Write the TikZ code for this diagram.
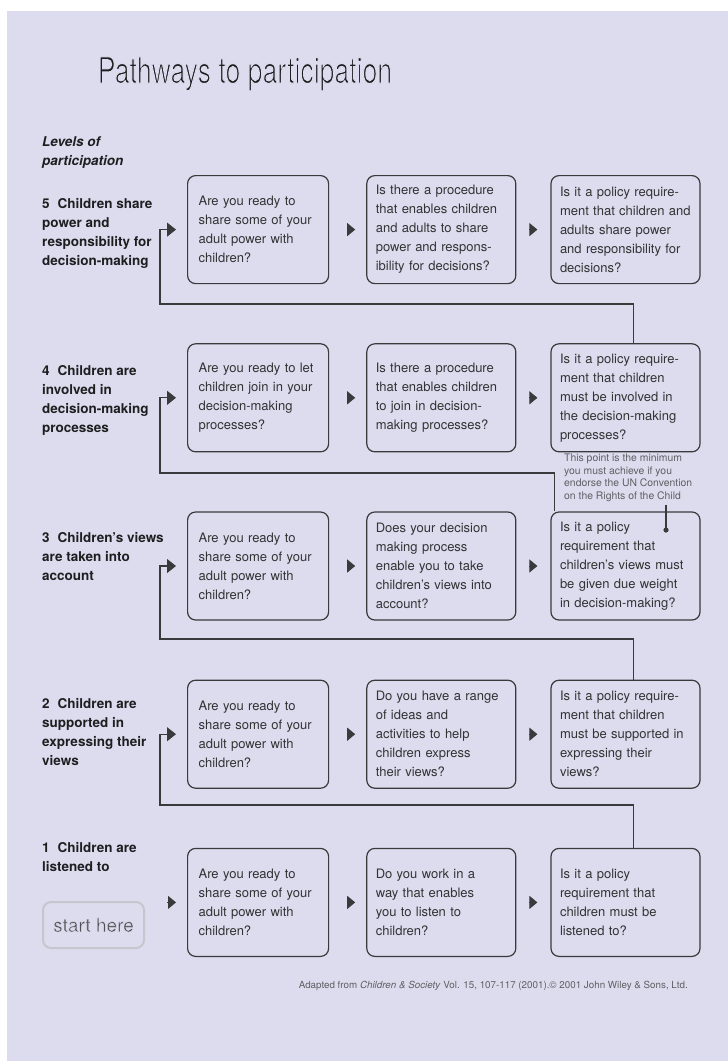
\documentclass[tikz,border=0pt]{standalone}
\usepackage{fontspec}
\setmainfont{TeX Gyre Heros}
\newfontfamily\titlefont{TeX Gyre Heros}[FakeStretch=0.74]
\usetikzlibrary{arrows.meta, positioning}
\definecolor{lav}{RGB}{220,220,238}
\definecolor{boxline}{RGB}{58,58,60}
\definecolor{boxtext}{RGB}{50,50,52}
\definecolor{labeltext}{RGB}{30,30,32}
\definecolor{notetext}{RGB}{95,95,100}
\definecolor{startline}{RGB}{198,198,206}
\definecolor{starttext}{RGB}{80,80,84}
% thin the glyphs by stroking their outline in the background colour
\newcommand{\lighttext}[2]{\special{pdf:literal direct 2 Tr #1 w 0.863 0.863 0.933 RG}#2\special{pdf:literal direct 0 Tr}}

\begin{document}
\begin{tikzpicture}[x=1pt,y=-1pt,node distance=59pt,
    qbox/.style={draw=boxline, line width=1.2pt, rounded corners=8pt,
        minimum height=108pt, text width=119pt, inner xsep=11pt, inner ysep=2pt,
        align=left, text=boxtext, font=\fontsize{13}{19}\selectfont},
    wbox/.style={qbox, text width=131pt, inner xsep=9pt},
    level/.style={anchor=north west, inner sep=0pt, align=left, text=labeltext,
        font=\fontsize{13.5}{19}\selectfont\bfseries},
    fwd/.style={-{Triangle[length=8pt,width=13pt]}, draw=boxline, fill=boxline, line width=1pt},
    back/.style={-{Triangle[length=9pt,width=14pt]}, draw=boxline, line width=1.2pt,
        shorten >=11pt},
    startbox/.style={draw=startline, line width=2pt, rounded corners=8pt,
        minimum width=101pt, minimum height=46pt, text=starttext,
        font=\fontsize{19}{22}\selectfont},
    note/.style={anchor=north west, inner sep=0pt, align=left, text=notetext,
        font=\fontsize{10.4}{12.5}\selectfont}]

    % Background and page size
    \fill[white] (0,0) rectangle (728,1061);
    \fill[lav] (7,11) rectangle (728,1061);
    \useasboundingbox (0,0) rectangle (728,1061);

    % Title and level labels
    \node[anchor=base, font=\titlefont\fontsize{36}{40}\selectfont, text=labeltext] (title)
        at (245,83) {\lighttext{1.0}{Pathways to participation}};
    \node[level, font=\fontsize{13.5}{19}\selectfont\bfseries\itshape] (levels)
        at (42,136) {Levels of\\participation};
    \node[level] (l5) at (42,198) {5\hspace{8pt}Children share\\power and\\responsibility for\\decision-making};
    \node[level] (l4) at (42,365) {4\hspace{8pt}Children are\\involved in\\decision-making\\processes};
    \node[level] (l3) at (42,532) {3\hspace{8pt}Children’s views\\are taken into\\account};
    \node[level] (l2) at (42,698) {2\hspace{8pt}Children are\\supported in\\expressing their\\views};
    \node[level] (l1) at (42,842) {1\hspace{8pt}Children are\\listened to};

    % Define the question boxes, row by row
    \node[qbox, anchor=north west] (b51) at (187,175)
        {Are you ready to\\share some of your\\adult power with\\children?};
    \node[wbox] (b52) [right=37pt of b51]
        {Is there a procedure\\that enables children\\and adults to share\\power and respons-\\ibility for decisions?};
    \node[wbox] (b53) [right=34pt of b52]
        {Is it a policy require-\\ment that children and\\adults share power\\and responsibility for\\decisions?};

    \node[qbox] (b41) [below=of b51]
        {Are you ready to let\\children join in your\\decision-making\\processes?};
    \node[wbox] (b42) [below=of b52]
        {Is there a procedure\\that enables children\\to join in decision-\\making processes?};
    \node[wbox] (b43) [below=of b53]
        {Is it a policy require-\\ment that children\\must be involved in\\the decision-making\\processes?};

    \node[qbox] (b31) [below=of b41]
        {Are you ready to\\share some of your\\adult power with\\children?};
    \node[wbox] (b32) [below=of b42]
        {Does your decision\\making process\\enable you to take\\children’s views into\\account?};
    \node[wbox] (b33) [below=of b43]
        {Is it a policy\\requirement that\\children’s views must\\be given due weight\\in decision-making?};

    \node[qbox] (b21) [below=of b31]
        {Are you ready to\\share some of your\\adult power with\\children?};
    \node[wbox] (b22) [below=of b32]
        {Do you have a range\\of ideas and\\activities to help\\children express\\their views?};
    \node[wbox] (b23) [below=of b33]
        {Is it a policy require-\\ment that children\\must be supported in\\expressing their\\views?};

    \node[qbox] (b11) [below=of b21]
        {Are you ready to\\share some of your\\adult power with\\children?};
    \node[wbox] (b12) [below=of b22]
        {Do you work in a\\way that enables\\you to listen to\\children?};
    \node[wbox] (b13) [below=of b23]
        {Is it a policy\\requirement that\\children must be\\listened to?};

    \node[startbox] (start) at (93.5,925) {\lighttext{0.35}{start here}};

    % Arrows between the boxes of a row
    \foreach \r in {1,...,5} {
        \draw[fwd, shorten <=18pt, shorten >=11pt] (b\r1.east) -- (b\r2.west);
        \draw[fwd, shorten <=13pt, shorten >=13pt] (b\r2.east) -- (b\r3.west);
    }
    \coordinate (go) at (167,896);
    \draw[fwd, shorten >=11pt] (go |- b11.west) -- (b11.west);

    % Connect each row to the one above
    \coordinate (k1) at (160,805);
    \coordinate (k2) at (160,639);
    \coordinate (k3) at (160,473);
    \coordinate (k4) at (160,304);
    \draw[back] ([xshift=8pt]b13.north) |- (k1) |- (b21.west);
    \draw[back] ([xshift=8pt]b23.north) |- (k2) |- (b31.west);
    \draw[back] ([xshift=4pt]b33.north west) |- (k3) |- (b41.west);
    \draw[back] ([xshift=8pt]b43.north) |- (k4) |- (b51.west);

    % Minimum level note
    \node[note] (minimum) at (564,454)
        {This point is the minimum\\you must achieve if you\\endorse the UN Convention\\on the Rights of the Child};
    \coordinate (pin) at (666,530);
    \draw[boxline, line width=1.2pt] ([yshift=-3pt]pin |- minimum.south) -- (pin);
    \fill[boxline] (pin) circle (2.6pt);

    % Source line
    \node[anchor=base east, inner sep=0pt, text=notetext, font=\fontsize{9.8}{11}\selectfont] (credit)
        at (688,988) {Adapted from \textit{Children \& Society} Vol. 15, 107-117 (2001).© 2001 John Wiley \& Sons, Ltd.};

\end{tikzpicture}
\end{document}
